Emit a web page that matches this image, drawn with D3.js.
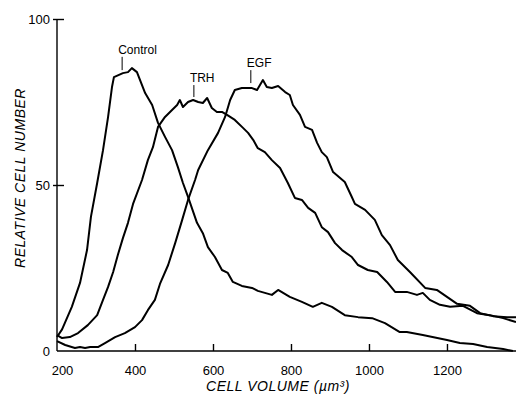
<!DOCTYPE html>
<html>
<head>
<meta charset="utf-8">
<script src="https://cdn.jsdelivr.net/npm/d3@7"></script>
<style>
  body { margin: 0; background: #fff; }
  svg { display: block; font-family: "Liberation Sans", Arial, sans-serif; }
</style>
</head>
<body>
<div id="container"></div>
<script>
// [cell volume (um^3), relative cell number]
const controlData = [
    [200, 4.2], [213, 6.5], [238, 13.3], [259, 20.5], [277, 30.4], [287, 40.4],
    [303, 50.6], [318, 60.5], [331, 70.5], [341, 79.5], [346, 82.5], [369, 83.7], [382, 84.0],
    [392, 85.2], [405, 84.0], [426, 77.7], [444, 74.1], [459, 68.7], [477, 64.5],
    [495, 60.5], [510, 55.4], [523, 50.6], [536, 46.4], [559, 38.6], [574, 35.5],
    [587, 31.3], [605, 28.3], [623, 24.4], [638, 23.5], [651, 20.8], [674, 19.6],
    [700, 19.0], [715, 18.1], [751, 16.9], [767, 18.4], [797, 16.3], [828, 14.8],
    [856, 13.3], [879, 14.5], [905, 13.3], [938, 10.8], [972, 10.2], [1008, 9.9],
    [1041, 8.4], [1079, 5.7], [1097, 5.7], [1138, 4.8], [1200, 3.3], [1233, 2.4],
    [1267, 2.1], [1303, 1.2], [1344, 0.6], [1369, 0]
];

const trhData = [
    [200, 4.8], [213, 3.9], [233, 4.2], [254, 5.4], [279, 7.8], [303, 10.8],
    [318, 15.4], [331, 19.3], [344, 23.8], [356, 28.9], [369, 34.0], [382, 38.6],
    [395, 44.3], [418, 51.5], [433, 57.5], [446, 61.4], [459, 67.5], [477, 70.5],
    [495, 72.6], [508, 74.1], [515, 75.6], [523, 73.5], [536, 75.0], [549, 75.6],
    [562, 75.0], [574, 74.7], [585, 76.2], [597, 73.2], [610, 72.0], [623, 72.0],
    [636, 71.1], [656, 69.6], [677, 67.2], [690, 65.7], [703, 63.6], [715, 61.1],
    [733, 59.9], [751, 57.5], [772, 55.1], [792, 50.6], [810, 46.1], [828, 45.5],
    [844, 43.1], [862, 41.6], [879, 37.3], [895, 35.8], [913, 32.5], [931, 30.4],
    [956, 28.3], [972, 25.9], [997, 24.4], [1021, 23.8], [1046, 20.8], [1067, 17.8],
    [1097, 17.8], [1123, 16.9], [1138, 17.5], [1156, 15.4], [1182, 13.9], [1208, 13.3],
    [1241, 13.6], [1277, 11.4], [1310, 10.8], [1344, 9.9], [1377, 8.7]
];

const egfData = [
    [200, 3.0], [221, 1.8], [246, 0.9], [259, 1.2], [272, 0.9], [285, 1.2],
    [305, 1.2], [323, 2.4], [349, 4.2], [374, 5.4], [400, 7.2], [418, 9.3],
    [433, 12.3], [451, 15.4], [464, 20.2], [485, 25.9], [503, 32.5], [521, 39.5],
    [536, 45.5], [554, 51.5], [562, 54.5], [587, 60.5], [613, 65.7], [631, 70.5],
    [644, 75.6], [656, 78.6], [674, 79.2], [700, 79.2], [713, 78.6], [728, 81.6],
    [738, 79.5], [751, 79.2], [767, 79.8], [785, 78.0], [797, 77.1], [805, 74.1],
    [823, 71.1], [836, 67.5], [854, 66.6], [867, 62.7], [879, 59.9], [892, 58.4],
    [908, 53.9], [938, 50.9], [956, 46.4], [964, 44.3], [990, 42.5], [1015, 39.5],
    [1033, 34.9], [1054, 31.9], [1074, 27.4], [1105, 23.8], [1144, 19.0], [1174, 18.4],
    [1200, 16.3], [1226, 14.2], [1259, 13.6], [1285, 11.4], [1318, 10.5], [1354, 10.2],
    [1377, 10.2]
];

const xTicks = [200, 400, 600, 800, 1000, 1200];
const yTicks = [0, 50, 100];

// curve labels with their leader lines (volume, top and bottom of the line)
const labelNames = ["Control", "TRH", "EGF"];
const labelVolumes = [367, 551, 697];
const labelTops = [88.6, 80.1, 84.6];
const labelBottoms = [84.6, 76.5, 80.7];

const width = 516;
const height = 395;
const margin = {top: 19, right: 0, bottom: 44, left: 57};

const scaleX = d3.scaleLinear().domain([200, 1377]).range([margin.left, width - margin.right]);
const scaleY = d3.scaleLinear().domain([0, 100]).range([height - margin.bottom, margin.top]);

const svg = d3.select("#container")
    .append("svg")
    .attr("width", width)
    .attr("height", height);

const line = d3.line()
    .x(d => scaleX(d[0]))
    .y(d => scaleY(d[1]));

// axes, ticks pointing into the plot
const xAxis = svg.append("g")
    .attr("transform", "translate(0," + scaleY(0) + ")")
    .call(d3.axisBottom(scaleX).tickValues(xTicks).tickSize(-7).tickPadding(15).tickFormat(d3.format("d")));
xAxis.select(".domain").attr("d", "M" + scaleX(200) + ",0H" + (width - margin.right));

const yAxis = svg.append("g")
    .attr("transform", "translate(" + margin.left + ",0)")
    .call(d3.axisLeft(scaleY).tickValues(yTicks).tickSize(-7).tickPadding(7));
yAxis.select(".domain").attr("d", "M0," + scaleY(100) + "V" + scaleY(0));
yAxis.selectAll(".tick line").attr("x1", -4);

for (const ax of [xAxis, yAxis]) {
    ax.selectAll(".domain, .tick line").attr("stroke", "#000").attr("stroke-width", 1.4);
    ax.selectAll(".tick text")
        .attr("fill", "#000")
        .style("font-family", "'Liberation Sans', Arial, sans-serif")
        .style("font-size", "13px");
}
xAxis.selectAll(".tick").filter(d => d === 200).select("line").remove();
xAxis.selectAll(".tick").filter(d => d === 200).select("text").attr("dx", 5);
yAxis.selectAll(".tick").filter(d => d === 0).select("line").remove();

// traces
for (const series of [controlData, trhData, egfData]) {
    svg.append("path")
        .datum(series)
        .attr("fill", "none")
        .attr("stroke", "#000")
        .attr("stroke-width", 2)
        .attr("stroke-linejoin", "round")
        .attr("d", line);
}

// labels
labelNames.forEach((name, i) => {
    svg.append("line")
        .attr("x1", scaleX(labelVolumes[i]))
        .attr("x2", scaleX(labelVolumes[i]))
        .attr("y1", scaleY(labelTops[i]))
        .attr("y2", scaleY(labelBottoms[i]))
        .attr("stroke", "#000")
        .attr("stroke-width", 1);
    svg.append("text")
        .attr("x", scaleX(labelVolumes[i]) - 4)
        .attr("y", scaleY(labelTops[i]) - 3)
        .attr("font-size", 12)
        .attr("fill", "#000")
        .text(name);
});

// axis titles
svg.append("text")
    .attr("transform", "translate(25," + 178 + ") rotate(-90)")
    .attr("text-anchor", "middle")
    .attr("font-size", 14)
    .attr("font-style", "italic")
    .attr("letter-spacing", 0.5)
    .text("RELATIVE CELL NUMBER");

svg.append("text")
    .attr("x", 278)
    .attr("y", 391)
    .attr("text-anchor", "middle")
    .attr("font-size", 14)
    .attr("font-style", "italic")
    .attr("letter-spacing", 0.5)
    .text("CELL VOLUME (\u00b5m\u00b3)");
</script>
</body>
</html>
